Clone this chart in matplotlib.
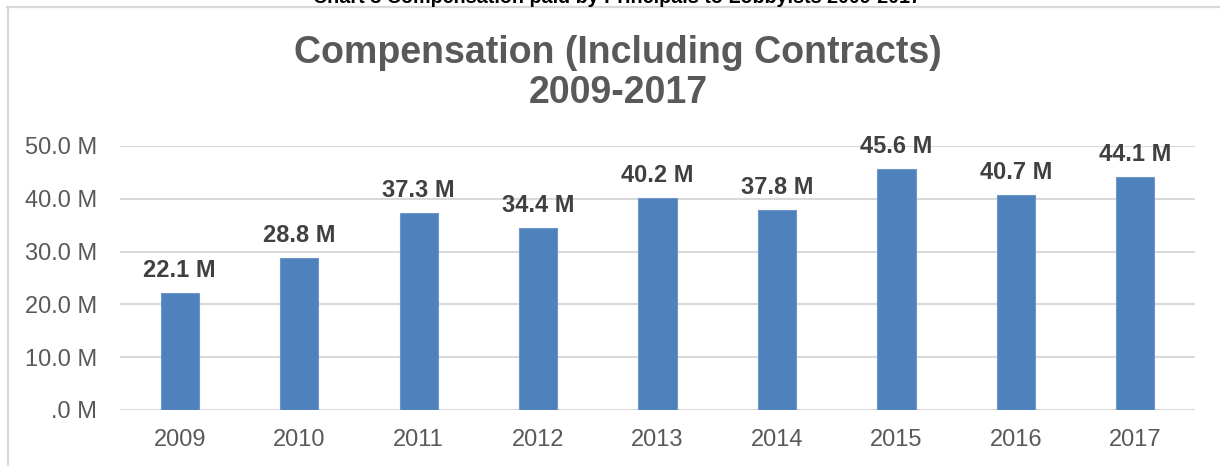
import matplotlib.pyplot as plt
from matplotlib.lines import Line2D

plt.rcParams['font.family'] = ['Liberation Sans', 'DejaVu Sans']

# data (millions)
years = ['2009', '2010', '2011', '2012', '2013', '2014', '2015', '2016', '2017']
compensation = [22.1, 28.8, 37.3, 34.4, 40.2, 37.8, 45.6, 40.7, 44.1]
yticks = [0, 10, 20, 30, 40, 50]
ytick_labels = ['.0 M', '10.0 M', '20.0 M', '30.0 M', '40.0 M', '50.0 M']

W, H = 1220, 466
fig = plt.figure(figsize=(W / 100, H / 100), dpi=100)
ax = fig.add_axes([120 / W, 1 - 410 / H, (1195 - 120) / W, (410 - 146) / H])

x = range(len(years))
ax.bar(x, compensation, width=0.32, color='#4f81bd', edgecolor='#6f96c8',
       linewidth=0.8, zorder=3)

for xi, v in zip(x, compensation):
    ax.annotate(f'{v:.1f} M', (xi, v), xytext=(0, 8), textcoords='offset points',
                ha='center', va='bottom', fontsize=17, fontweight='bold',
                color='#404040', clip_on=False)

ax.set_xlim(-0.5, len(years) - 0.5)
ax.set_ylim(0, 50)
ax.set_yticks(yticks)
ax.set_yticklabels(ytick_labels)
ax.set_xticks(list(x))
ax.set_xticklabels(years)
ax.grid(axis='y', color='#d9d9d9', linewidth=1.5, zorder=0)
ax.tick_params(axis='y', length=0, pad=16.5, labelsize=17, labelcolor='#595959')
ax.tick_params(axis='x', length=0, pad=14, labelsize=17, labelcolor='#595959')
for s in ax.spines.values():
    s.set_visible(False)

# chart title
fig.text(618 / W, 1 - 73 / H, 'Compensation (Including Contracts)\n2009-2017',
         ha='center', va='center', fontsize=27, fontweight='bold',
         color='#595959', linespacing=1.15)

# caption cut off at the top of the picture
fig.text(617 / W, 1 - 3 / H,
         'Chart 3 Compensation paid by Principals to Lobbyists 2009-2017',
         ha='center', va='baseline', fontsize=14.2, fontweight='bold', color='#000000')

# frame lines of the surrounding box
fig.add_artist(Line2D([7, W], [H - 7, H - 7], transform=None,
                      color='#d9d9d9', linewidth=1.6))
fig.add_artist(Line2D([7.5, 7.5], [0, H - 7], transform=None,
                      color='#d9d9d9', linewidth=1.6))

fig.savefig('out.png', dpi=100)
